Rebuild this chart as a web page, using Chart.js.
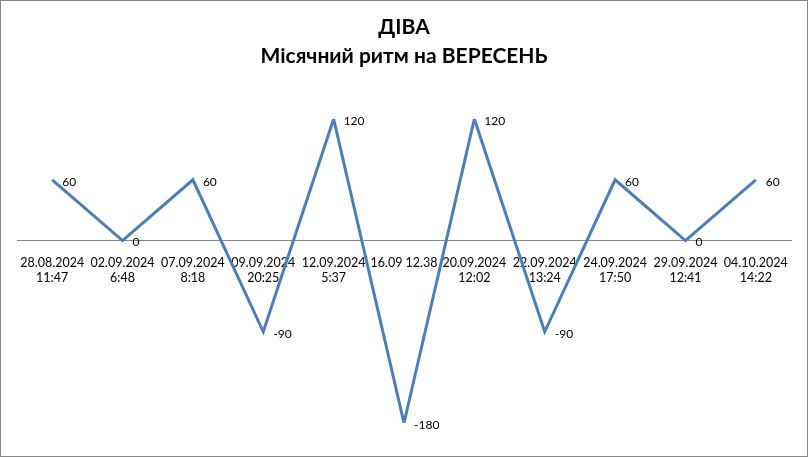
<!DOCTYPE html>
<html>
<head>
<meta charset="utf-8">
<script src="https://cdn.jsdelivr.net/npm/chart.js@4"></script>
<style>
  html, body { margin: 0; padding: 0; background: #fff; }
  #wrap { position: relative; width: 806px; height: 455px; border: 1px solid #888; }
</style>
</head>
<body>
<div id="wrap"><canvas id="chart" width="806" height="455"></canvas></div>
<script>
// Місячний ритм - data
const dates = [
    ["28.08.2024", "11:47"],
    ["02.09.2024", "6:48"],
    ["07.09.2024", "8:18"],
    ["09.09.2024", "20:25"],
    ["12.09.2024", "5:37"],
    "16.09 12.38",
    ["20.09.2024", "12:02"],
    ["22.09.2024", "13:24"],
    ["24.09.2024", "17:50"],
    ["29.09.2024", "12:41"],
    ["04.10.2024", "14:22"]
];
const rhythm = [60, 0, 60, -90, 120, -180, 120, -90, 60, 0, 60];
const titleLines = ["ДІВА", "Місячний ритм на ВЕРЕСЕНЬ"];

const FONT = "Lato, 'Open Sans', sans-serif";

// value labels to the right of each point
const pointLabels = {
    id: "pointLabels",
    afterDatasetsDraw(chart) {
        const ctx = chart.ctx;
        const meta = chart.getDatasetMeta(0);
        ctx.save();
        ctx.font = "12px " + FONT;
        ctx.fillStyle = "#000";
        ctx.textBaseline = "middle";
        ctx.textAlign = "left";
        meta.data.forEach((pt, i) => {
            ctx.fillText(String(rhythm[i]), pt.x + 10, pt.y + 2);
        });
        ctx.restore();
    }
};

new Chart(document.getElementById("chart"), {
    type: "line",
    data: {
        labels: dates,
        datasets: [{
            data: rhythm,
            borderColor: "#4a7ebb",
            borderWidth: 3,
            pointRadius: 0,
            pointHoverRadius: 0,
            tension: 0,
            fill: false
        }]
    },
    options: {
        responsive: false,
        animation: false,
        layout: { padding: { left: 16, right: 16, top: 0, bottom: 33 } },
        plugins: {
            legend: { display: false },
            tooltip: { enabled: false },
            title: {
                display: true,
                text: titleLines,
                color: "#000",
                font: { family: FONT, size: 21, weight: "bold", lineHeight: 1.38 },
                padding: { top: 12, bottom: 48 }
            }
        },
        scales: {
            x: {
                position: { y: 0 },
                offset: true,
                grid: { display: false, drawTicks: false },
                border: { display: true, color: "#868686", width: 1 },
                ticks: {
                    color: "#000",
                    font: { family: FONT, size: 12.5, lineHeight: 1.2 },
                    padding: 15,
                    maxRotation: 0,
                    autoSkip: false
                }
            },
            y: {
                display: false,
                min: -180,
                max: 120
            }
        }
    },
    plugins: [pointLabels]
});
</script>
</body>
</html>
